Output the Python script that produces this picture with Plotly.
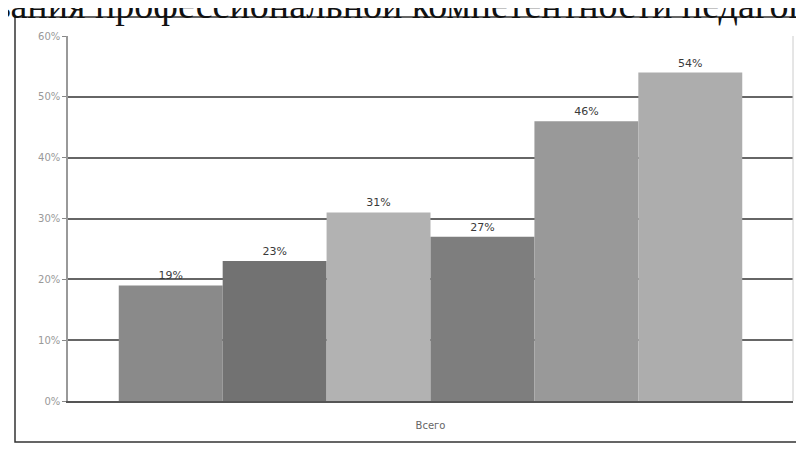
import plotly.graph_objects as go

categories = ["Всего"]
series_names = ["Ряд 1", "Ряд 2", "Ряд 3", "Ряд 4", "Ряд 5", "Ряд 6"]
values = [19, 23, 31, 27, 46, 54]
bar_colors = ["#8a8a8a", "#727272", "#b2b2b2", "#7e7e7e", "#999999", "#adadad"]
y_ticks = [0, 10, 20, 30, 40, 50, 60]
y_tick_labels = ["0%", "10%", "20%", "30%", "40%", "50%", "60%"]

# page body has an 8px margin, so the figure is drawn 8px smaller and offset
OFF = 8
W, H = 804 - OFF, 452 - OFF
L, R, T, B = 68 - OFF, 11, 36 - OFF, 51
pw, ph = W - L - R, H - T - B

def px_x(px):
    return (px - OFF - L) / pw

def px_y(py):
    return (H - B - (py - OFF)) / ph

fig = go.Figure()
for name, v, c in zip(series_names, values, bar_colors):
    fig.add_trace(go.Bar(
        x=categories, y=[v], name=name,
        marker=dict(color=c, line=dict(width=0)),
        text=[f"{v}%"], textposition="outside",
        textfont=dict(family="DejaVu Sans", size=11, color="#3a3a3a"),
        cliponaxis=False,
    ))

fig.update_layout(
    width=W, height=H,
    margin=dict(l=L, r=R, t=T, b=B),
    barmode="group", bargap=0.14, bargroupgap=0,
    showlegend=False,
    plot_bgcolor="white", paper_bgcolor="white",
    xaxis=dict(
        showgrid=False, showline=True, linecolor="#555555", linewidth=1.5,
        mirror=False, tickfont=dict(family="DejaVu Sans", size=10, color="#666666"),
        ticks="", ticklabelstandoff=14,
    ),
    yaxis=dict(
        range=[0, 60], tickvals=y_ticks, ticktext=y_tick_labels,
        showgrid=True, gridcolor="#666666", gridwidth=1.5,
        showline=True, linecolor="#999999", linewidth=1.5, mirror=False,
        ticks="outside", ticklen=4, tickcolor="#888888",
        tickfont=dict(family="DejaVu Sans", size=10, color="#999999"),
        zeroline=False,
    ),
    font=dict(family="DejaVu Sans"),
    shapes=[
        # outer chart frame
        dict(type="rect", xref="paper", yref="paper",
             x0=px_x(15), x1=px_x(815), y0=px_y(442), y1=px_y(17),
             line=dict(color="#333333", width=1.5), fillcolor="rgba(0,0,0,0)"),
        # faint right border of plot area
        dict(type="line", xref="paper", yref="paper",
             x0=1, x1=1, y0=0, y1=1,
             line=dict(color="#cccccc", width=1)),
    ],
    annotations=[
        dict(text="ования профессиональной компетентности педагогов",
             xref="paper", yref="paper", x=px_x(-28), y=px_y(5),
             xanchor="left", yanchor="middle", showarrow=False,
             font=dict(family="Liberation Serif", size=38, color="#111111")),
    ],
)

fig.write_html("out.html")
